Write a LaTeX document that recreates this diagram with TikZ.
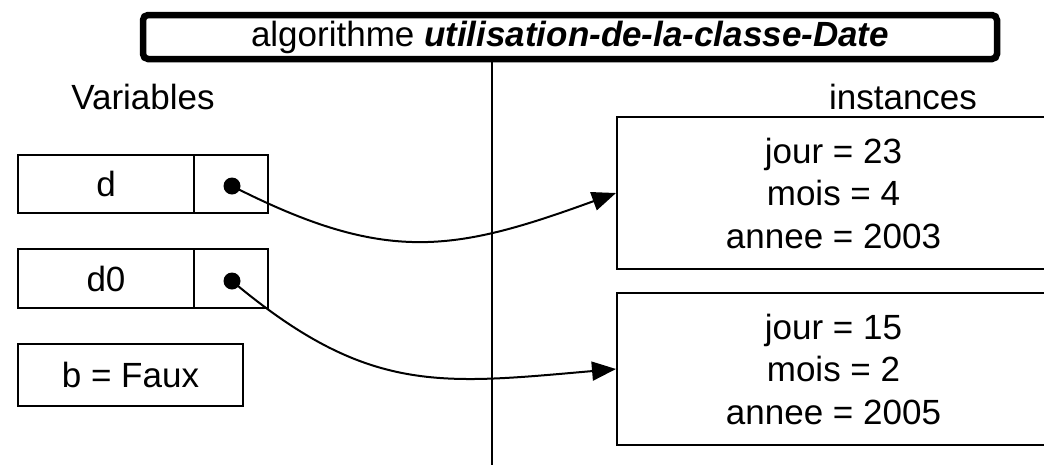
\documentclass[tikz,border=0pt]{standalone}
\usepackage{fontspec}
\setmainfont{Liberation Sans}
\usetikzlibrary{arrows.meta}
\begin{document}
\begin{tikzpicture}[x=1pt,y=-1pt,
  txt/.style={font=\fontsize{35}{42.5}\selectfont},
  cell/.style={draw, line width=2pt, inner sep=0pt, txt},
  dotmark/.style={circle, fill=black, inner sep=0pt, minimum size=17pt},
  ptr/.style={line width=2pt, -{Triangle[length=24pt,width=19pt]}},
  ]
\useasboundingbox (0,0) rectangle (1044,464);
\clip (0,0) rectangle (1044,464);
% vertical separator
\coordinate (vtop) at (492,40);
\coordinate (vbot) at (492,470);
\draw[line width=2.2pt] (vtop) -- (vbot);
% title
\node[draw, line width=6.5pt, rounded corners=5pt, fill=white, minimum width=854pt, minimum height=44pt, inner sep=0pt, txt] (title) at (570,37)
  {algorithme \textbf{\textit{utilisation-de-la-classe-Date}}};
% headings
\node[txt] (vars) at (143,97) {Variables};
\node[txt] (inst) at (903,97) {instances};
% variable cells
\node[cell, minimum width=176pt, minimum height=58pt] (d) at (106,184) {d};
\node[cell, minimum width=74pt, minimum height=58pt] (dp) at (231,184) {};
\node[cell, minimum width=176pt, minimum height=59pt] (dz) at (106,278.5) {d0};
\node[cell, minimum width=74pt, minimum height=59pt] (dzp) at (231,278.5) {};
\node[cell, minimum width=225pt, minimum height=62pt] (b) at (130.5,375) {b = Faux};
% dots
\node[dotmark] (dot1) at (232,186) {};
\node[dotmark] (dot2) at (232,281) {};
% instances
\node[cell, minimum width=433pt, minimum height=152pt, align=center] (i1) at (833.5,193)
  {jour = 23\\mois = 4\\annee = 2003};
\node[cell, minimum width=433pt, minimum height=152pt, align=center] (i2) at (833.5,369)
  {jour = 15\\mois = 2\\annee = 2005};
% pointers
\draw[ptr] (dot1.center) to[out=-27, in=200, looseness=1.15] (i1.west);
\draw[ptr] (dot2.center) to[out=-40, in=185, looseness=1.15] (i2.west);
\end{tikzpicture}
\end{document}
